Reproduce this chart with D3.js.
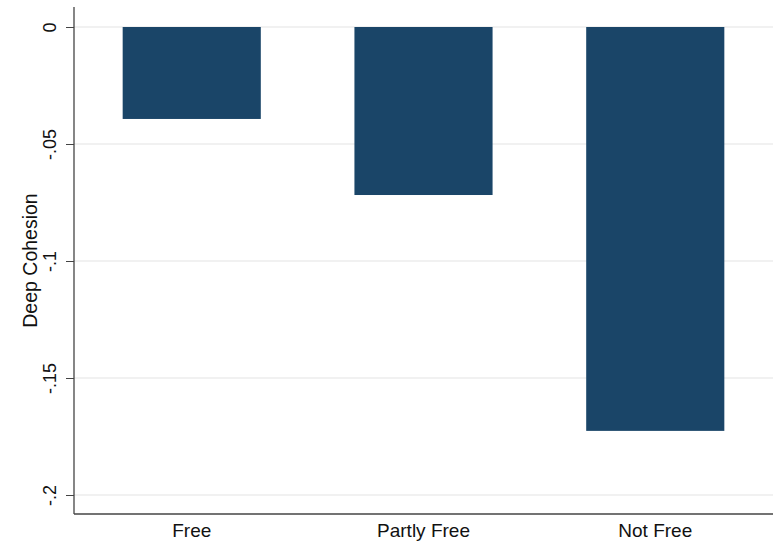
<!DOCTYPE html>
<html>
<head>
<meta charset="utf-8">
<script src="https://cdn.jsdelivr.net/npm/d3@7"></script>
<style>
  body { margin: 0; background: #fff; }
  text { font-family: "Liberation Sans", Arial, sans-serif; fill: #111; }
</style>
</head>
<body>
<div id="chart-container"></div>
<script>
// Chart data
const categories = ['Free', 'Partly Free', 'Not Free'];
const cohesion = [-0.0393, -0.0718, -0.1726];
const yTicks = [0, -0.05, -0.1, -0.15, -0.2];
const yTickLabels = ['0', '-.05', '-.1', '-.15', '-.2'];

const barColor = '#1a4568';
const gridColor = '#ececec';
const axisColor = '#444';

function createChart() {
  const width = 776;
  const height = 542;
  const left = 74, right = 773, top = 27, bottom = 514;

  const svg = d3
    .create('svg')
    .attr('width', width)
    .attr('height', height);

  const x = d3
    .scaleBand()
    .domain(categories)
    .range([left, right])
    .paddingInner(0.404)
    .paddingOuter(0.21);

  // 0 at y=27, -0.2 at y=495
  const y = d3.scaleLinear().domain([0, -0.2]).range([top, 495]);

  // gridlines
  svg.append('g')
    .selectAll('line')
    .data(yTicks)
    .join('line')
    .attr('x1', left)
    .attr('x2', right)
    .attr('y1', (d) => y(d))
    .attr('y2', (d) => y(d))
    .attr('stroke', gridColor)
    .attr('stroke-width', 1.5);

  // bars
  svg.append('g')
    .selectAll('rect')
    .data(categories)
    .join('rect')
    .attr('x', (d) => x(d))
    .attr('width', x.bandwidth())
    .attr('y', y(0))
    .attr('height', (d, i) => y(cohesion[i]) - y(0))
    .attr('fill', barColor);

  // y axis
  const yAxis = d3.axisLeft(y)
    .tickValues(yTicks)
    .tickSize(8)
    .tickFormat((d, i) => yTickLabels[i]);

  const gy = svg.append('g')
    .attr('transform', `translate(${left},0)`)
    .call(yAxis);
  gy.select('.domain').remove();
  gy.selectAll('.tick line').attr('stroke', axisColor);
  gy.selectAll('.tick text')
    .attr('transform', 'rotate(-90)')
    .attr('x', 0)
    .attr('y', -18)
    .attr('dy', 0)
    .attr('text-anchor', 'middle')
    .attr('font-size', 18)
    .attr('font-family', '"Liberation Sans", Arial, sans-serif')
    .attr('fill', '#111');

  gy.append('line')
    .attr('x1', 0).attr('x2', 0)
    .attr('y1', 7).attr('y2', bottom)
    .attr('stroke', axisColor)
    .attr('stroke-width', 1.3);

  // x axis
  const xAxis = d3.axisBottom(x).tickSize(0).tickPadding(10);
  const gx = svg.append('g')
    .attr('transform', `translate(0,${bottom})`)
    .call(xAxis);
  gx.select('.domain').remove();
  gx.append('line')
    .attr('x1', left).attr('x2', right)
    .attr('stroke', axisColor)
    .attr('stroke-width', 1.3);
  gx.selectAll('.tick text')
    .attr('font-size', 19)
    .attr('font-family', '"Liberation Sans", Arial, sans-serif')
    .attr('fill', '#111');

  // y title
  svg.append('text')
    .attr('transform', `translate(37,${(193 + 328) / 2}) rotate(-90)`)
    .attr('text-anchor', 'middle')
    .attr('font-size', 19.5)
    .text('Deep Cohesion');

  return svg.node();
}

document.getElementById('chart-container').appendChild(createChart());
</script>
</body>
</html>
